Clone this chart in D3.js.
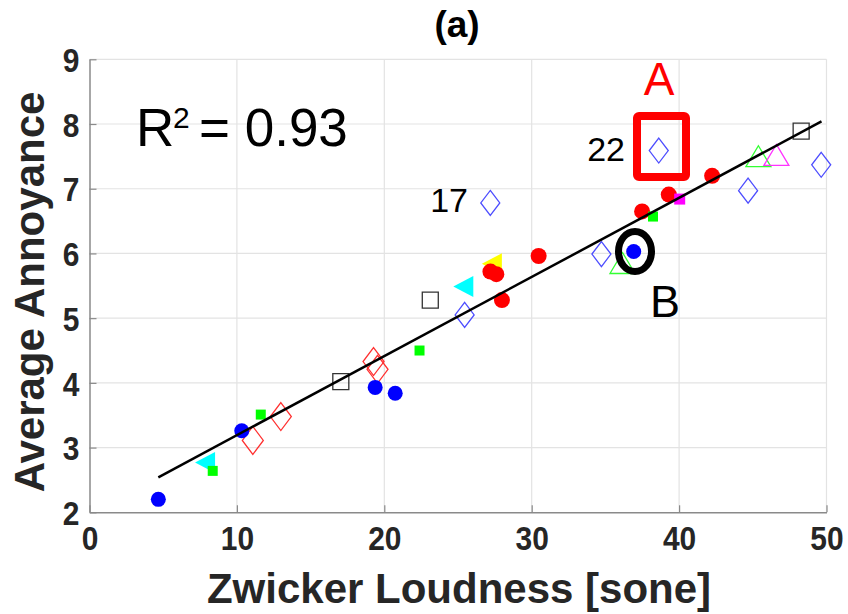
<!DOCTYPE html>
<html lang="en">
<head>
    <meta charset="UTF-8">
    <title></title>
    <style type="text/css">
        html, body { padding:0; margin:0; background:#fff; }
        text { font-family: "Liberation Sans", Arial, sans-serif; }
    </style>
</head>
<body>
<script src="https://d3js.org/d3.v7.min.js"></script>
<script type="text/javascript">
    // values
    var xTicks = [0, 10, 20, 30, 40, 50],
        yTicks = [2, 3, 4, 5, 6, 7, 8, 9];

    var blueDotX = [4.67, 10.33, 19.38, 20.74, 36.92],
        blueDotY = [2.20, 3.26, 3.93, 3.84, 6.03];
    var redDotX = [27.2, 27.6, 27.98, 30.47, 37.49, 39.3, 42.24],
        redDotY = [5.72, 5.68, 5.28, 5.96, 6.65, 6.91, 7.20];
    var greenSqX = [8.36, 11.62, 22.39, 38.23],
        greenSqY = [2.64, 3.51, 4.50, 6.57];
    var magentaSqX = [40.04],
        magentaSqY = [6.84];
    var blackSqX = [17.05, 23.12, 48.28],
        blackSqY = [4.02, 5.28, 7.89];
    var blueDiaX = [25.45, 27.19, 34.73, 38.62, 44.68, 49.64],
        blueDiaY = [5.05, 6.78, 5.99, 7.59, 6.97, 7.37];
    var redDiaX = [11.08, 12.98, 19.27, 19.54],
        redDiaY = [3.11, 3.48, 4.33, 4.21];
    var cyanTriX = [7.84, 25.36],
        cyanTriY = [2.77, 5.49];
    var yellowTriX = [27.3],
        yellowTriY = [5.84];
    var greenTriX = [36.16, 45.38],
        greenTriY = [5.82, 7.47];
    var magentaTriX = [46.6],
        magentaTriY = [7.49];
    var fitX = [4.67, 49.66],
        fitY = [2.54, 8.04];

    var width = 848, height = 614;
    var svg = d3.select('body').append('svg')
        .attr('width', width)
        .attr('height', height);

    var xScale = d3.scaleLinear().domain([0, 50]).range([89.5, 826.5]);
    var yScale = d3.scaleLinear().domain([2, 9]).range([512.3, 59.3]);

    function zip(xs, ys) {
        return xs.map(function(x, i) { return {x: x, y: ys[i]}; });
    }

    // grid
    svg.append('g').selectAll('line.gx')
        .data(xTicks.slice(1)).enter().append('line')
        .attr('x1', function(d) { return xScale(d); })
        .attr('x2', function(d) { return xScale(d); })
        .attr('y1', yScale(2)).attr('y2', yScale(9))
        .attr('stroke', '#e3e3e3').attr('stroke-width', 1.2);
    svg.append('g').selectAll('line.gy')
        .data(yTicks.slice(1)).enter().append('line')
        .attr('y1', function(d) { return yScale(d); })
        .attr('y2', function(d) { return yScale(d); })
        .attr('x1', xScale(0)).attr('x2', xScale(50))
        .attr('stroke', '#e3e3e3').attr('stroke-width', 1.2);

    // axes
    var xAxis = d3.axisBottom(xScale).tickValues(xTicks).tickFormat(d3.format('d'))
        .tickSizeInner(-7).tickSizeOuter(0).tickPadding(13);
    var yAxis = d3.axisLeft(yScale).tickValues(yTicks).tickFormat(d3.format('d'))
        .tickSizeInner(-7).tickSizeOuter(0).tickPadding(10);

    var gx = svg.append('g').attr('transform', 'translate(0,' + yScale(2) + ')').call(xAxis);
    var gy = svg.append('g').attr('transform', 'translate(' + xScale(0) + ',0)').call(yAxis);
    [gx, gy].forEach(function(g) {
        g.select('.domain').attr('stroke', '#8a8a8a').attr('stroke-width', 1.5);
        g.selectAll('.tick line').attr('stroke', '#8a8a8a').attr('stroke-width', 1.2);
        g.selectAll('.tick text')
            .attr('fill', '#262626')
            .style('font-family', '"Liberation Sans", Arial, sans-serif')
            .style('font-weight', 'bold')
            .style('font-size', '34px');
    });
    // slightly narrow digits, as in the figure
    gx.selectAll('.tick text').attr('dy', '0.72em')
        .attr('transform', function() { return 'scale(0.88,1)'; })
        .attr('x', function() { return 0; });
    gy.selectAll('.tick text').attr('dy', '0.36em')
        .attr('transform', 'translate(-10,0) scale(0.88,1)')
        .attr('x', 0);

    // axis titles
    svg.append('text')
        .attr('x', 459).attr('y', 603)
        .attr('text-anchor', 'middle')
        .attr('fill', '#262626')
        .style('font-size', '42px').style('font-weight', 'bold')
        .text('Zwicker Loudness [sone]');
    svg.append('text')
        .attr('transform', 'translate(44,292) rotate(-90)')
        .attr('text-anchor', 'middle')
        .attr('fill', '#262626')
        .style('font-size', '42px').style('font-weight', 'bold')
        .text('Average Annoyance');
    svg.append('text')
        .attr('x', 457).attr('y', 37)
        .attr('text-anchor', 'middle')
        .attr('fill', '#000')
        .style('font-size', '37px').style('font-weight', 'bold')
        .text('(a)');

    // marker shapes
    function diamond(w, h) {
        return 'M0,' + (-h / 2) + 'L' + (w / 2) + ',0L0,' + (h / 2) + 'L' + (-w / 2) + ',0Z';
    }
    function triLeft(w, h) {
        return 'M' + (-w / 2) + ',0L' + (w / 2) + ',' + (-h / 2) + 'L' + (w / 2) + ',' + (h / 2) + 'Z';
    }
    function triUp(w, h) {
        return 'M0,' + (-h * 0.6) + 'L' + (w / 2) + ',' + (h * 0.4) + 'L' + (-w / 2) + ',' + (h * 0.4) + 'Z';
    }
    function square(s) {
        return 'M' + (-s / 2) + ',' + (-s / 2) + 'h' + s + 'v' + s + 'h' + (-s) + 'Z';
    }

    function drawPath(pts, d, fill, stroke, sw) {
        svg.append('g').selectAll('path')
            .data(pts).enter().append('path')
            .attr('transform', function(p) { return 'translate(' + xScale(p.x) + ',' + yScale(p.y) + ')'; })
            .attr('d', d)
            .attr('fill', fill)
            .attr('stroke', stroke)
            .attr('stroke-width', sw || 1);
    }
    function drawDots(pts, color, r) {
        svg.append('g').selectAll('circle')
            .data(pts).enter().append('circle')
            .attr('cx', function(p) { return xScale(p.x); })
            .attr('cy', function(p) { return yScale(p.y); })
            .attr('r', r)
            .attr('fill', color);
    }

    drawPath(zip(blackSqX, blackSqY), square(16), 'none', '#333', 1.3);
    drawPath(zip(redDiaX, redDiaY), diamond(21, 28), 'none', '#ff3030', 1.3);
    drawPath(zip(blueDiaX, blueDiaY), diamond(19, 25), 'none', '#4d4dff', 1.3);
    drawPath(zip(greenTriX, greenTriY), triUp(25, 21), 'none', '#33ff33', 1.3);
    drawPath(zip(magentaTriX, magentaTriY), triUp(25, 21), 'none', '#ff33ff', 1.3);
    drawPath(zip(cyanTriX, cyanTriY), triLeft(20, 21), '#00ffff', 'none');
    drawPath(zip(yellowTriX, yellowTriY), triLeft(20, 21), '#ffff00', 'none');
    drawDots(zip(redDotX, redDotY), '#ff0000', 8);
    drawDots(zip(blueDotX, blueDotY), '#0000ff', 7.5);
    drawPath(zip(greenSqX, greenSqY), square(10), '#00ff00', 'none');
    drawPath(zip(magentaSqX, magentaSqY), square(11), '#ff00ff', 'none');

    // fitted line
    svg.append('path')
        .datum(zip(fitX, fitY))
        .attr('d', d3.line().x(function(p) { return xScale(p.x); }).y(function(p) { return yScale(p.y); }))
        .attr('fill', 'none')
        .attr('stroke', '#000')
        .attr('stroke-width', 2.5);

    // annotations
    svg.append('text').attr('x', 136).attr('y', 146)
        .style('font-size', '53px').attr('fill', '#000').text('R');
    svg.append('text').attr('x', 173).attr('y', 128)
        .style('font-size', '30px').attr('fill', '#000').text('2');
    svg.append('text').attr('x', 199).attr('y', 146)
        .style('font-size', '53px').attr('fill', '#000').text('= 0.93');

    svg.append('text').attr('x', 468).attr('y', 212)
        .attr('text-anchor', 'end')
        .style('font-size', '34px').attr('fill', '#000').text('17');
    svg.append('text').attr('x', 625).attr('y', 161)
        .attr('text-anchor', 'end')
        .style('font-size', '34px').attr('fill', '#000').text('22');

    svg.append('text').attr('x', 659).attr('y', 95)
        .attr('text-anchor', 'middle')
        .style('font-size', '46px').attr('fill', '#ff0000').text('A');
    svg.append('rect')
        .attr('x', 637).attr('y', 116).attr('width', 49).attr('height', 61)
        .attr('rx', 2)
        .attr('fill', 'none').attr('stroke', '#ff0000').attr('stroke-width', 8);

    svg.append('ellipse')
        .attr('cx', 635).attr('cy', 251.5).attr('rx', 16.5).attr('ry', 20)
        .attr('fill', 'none').attr('stroke', '#000').attr('stroke-width', 7);
    svg.append('text').attr('x', 665).attr('y', 317)
        .attr('text-anchor', 'middle')
        .style('font-size', '45px').attr('fill', '#000').text('B');
</script>
</body>
</html>
